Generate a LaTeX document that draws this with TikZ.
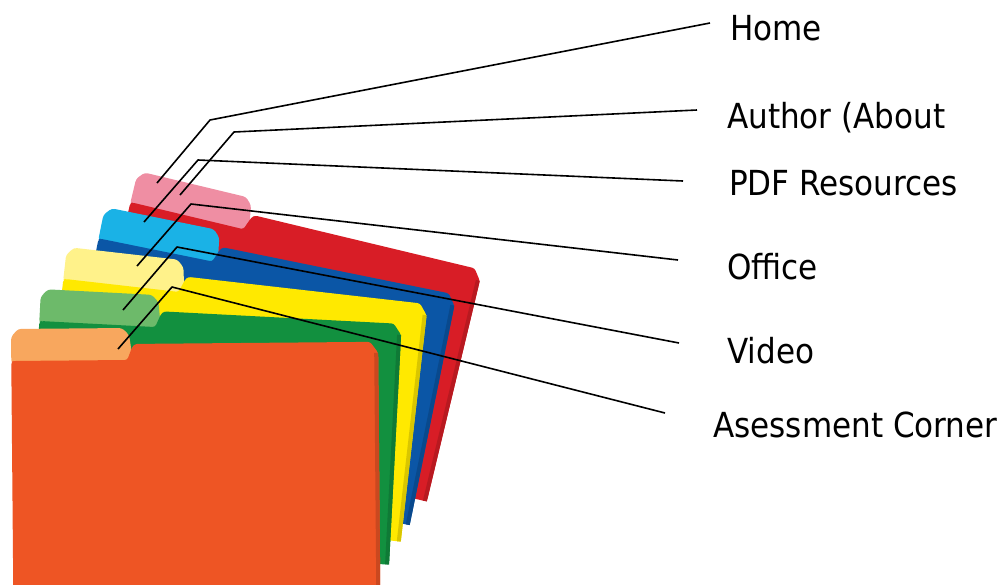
\documentclass[tikz,border=0pt]{standalone}
\usepackage{fontspec}
\setmainfont{DejaVu Sans Condensed}
\usetikzlibrary{calc}

% folder colours: light tab / darker front panel
\definecolor{pinkTab}{HTML}{EF8EA3}
\definecolor{redBody}{HTML}{D81D26}
\definecolor{cyanTab}{HTML}{1AB2E6}
\definecolor{blueBody}{HTML}{0B56A6}
\definecolor{paleYellow}{HTML}{FFF28A}
\definecolor{yellowBody}{HTML}{FFE900}
\definecolor{lightGreen}{HTML}{6DBA6A}
\definecolor{greenBody}{HTML}{12903F}
\definecolor{lightOrange}{HTML}{F8A75E}
\definecolor{orangeBody}{HTML}{EE5524}

% one file folder in local coordinates (y grows downward)
% #1 tab colour, #2 body colour, #3 width, #4 height
\newcommand{\fileFolder}[4]{%
  \fill[#1, rounded corners=3pt]
    (0,34) -- (0,8) -- (7,0) -- (111,0) -- (118,7) -- (122,34) -- cycle;
  \fill[#2, rounded corners=2.5pt]
    (0,#4) -- (0,33) -- (2,32) -- (116,32) -- (121,19) -- (124,16)
    -- ({#3-8},16) -- (#3,27) -- (#3,#4) -- cycle;
  \fill[#2!85!black] ({#3-4},27) -- (#3,27) -- (#3,#4) -- ({#3-4},#4) -- cycle;
}

\tikzset{
  lbl/.style={anchor=base west, inner sep=0pt, font=\fontsize{34.5}{40}\selectfont},
  leader/.style={draw=black, line width=1.6pt, line join=round}
}

\begin{document}
\begin{tikzpicture}[x=1pt, y=-1pt]
  \useasboundingbox (0,0) rectangle (1003,584);
  \clip (0,0) rectangle (1003,584);
  \fill[white] (0,0) rectangle (1003,584);

  % fanned stack of folders, back to front
  \begin{scope}[shift={(138,171)}, rotate=-13.5]
    \fileFolder{pinkTab}{redBody}{358}{254}
  \end{scope}
  \begin{scope}[shift={(105,207)}, rotate=-11.5]
    \fileFolder{cyanTab}{blueBody}{362}{251}
  \end{scope}
  \begin{scope}[shift={(67,247)}, rotate=-6.5]
    \fileFolder{paleYellow}{yellowBody}{365}{255}
  \end{scope}
  \begin{scope}[shift={(41,289)}, rotate=-3]
    \fileFolder{lightGreen}{greenBody}{362}{257}
  \end{scope}
  \begin{scope}[shift={(11,329)}, rotate=0.5]
    \fileFolder{lightOrange}{orangeBody}{367}{270}
  \end{scope}

  % labels
  \node[lbl] (home)   at (730,40)  {Home};
  \node[lbl] (author) at (727,128) {Author (About};
  \node[lbl] (pdf)    at (729,195) {PDF Resources};
  \node[lbl] (office) at (727,279) {Office};
  \node[lbl] (video)  at (727,363) {Video};
  \node[lbl] (assess) at (713,437) {Asessment Corner};

  % points on the tabs and bends of the leader lines
  \coordinate (homeTab)     at (157,183);
  \coordinate (homeBend)    at (210,120);
  \coordinate (authorTab)   at (180,195);
  \coordinate (authorBend)  at (234,132);
  \coordinate (pdfTab)      at (144,222);
  \coordinate (pdfBend)     at (198,160);
  \coordinate (officeTab)   at (137,266);
  \coordinate (officeBend)  at (191,204);
  \coordinate (videoTab)    at (123,310);
  \coordinate (videoBend)   at (177,247);
  \coordinate (assessTab)   at (118,349);
  \coordinate (assessBend)  at (172,287);

  \draw[leader] (homeTab)   -- (homeBend)   -- ([shift={(-20,-17)}]home.base west);
  \draw[leader] (authorTab) -- (authorBend) -- ([shift={(-30,-18)}]author.base west);
  \draw[leader] (pdfTab)    -- (pdfBend)    -- ([shift={(-46,-14)}]pdf.base west);
  \draw[leader] (officeTab) -- (officeBend) -- ([shift={(-49,-19)}]office.base west);
  \draw[leader] (videoTab)  -- (videoBend)  -- ([shift={(-48,-20)}]video.base west);
  \draw[leader] (assessTab) -- (assessBend) -- ([shift={(-48,-24)}]assess.base west);
\end{tikzpicture}
\end{document}
